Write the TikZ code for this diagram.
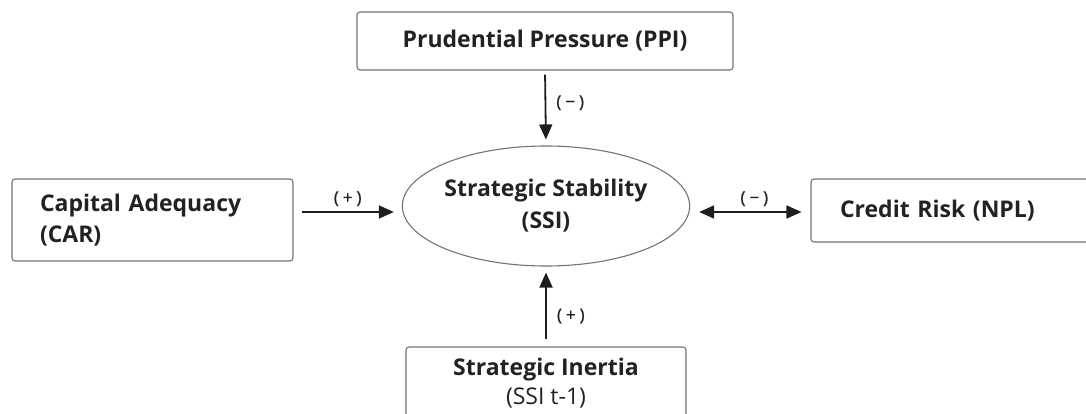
\documentclass[tikz,border=0pt]{standalone}
\usepackage{fontspec}
\setmainfont{Open Sans}
\newfontfamily\labfont[FakeBold=0.7]{Open Sans}
\usetikzlibrary{arrows.meta,shapes.geometric,calc}
\definecolor{boxline}{HTML}{747474}
\definecolor{txt}{HTML}{222222}
\definecolor{arrowc}{HTML}{1E1E1E}
\newcommand{\lbsp}[1]{(\hspace{4pt}#1\hspace{4pt})}
\tikzset{
  box/.style={draw=boxline, line width=1.1pt, rounded corners=3pt, fill=white, text=txt, inner sep=0pt},
  oval/.style={ellipse, draw=boxline, line width=1.1pt, fill=white, text=txt,
    font=\fontsize{23}{32}\selectfont\bfseries, align=center, inner sep=0pt},
  arr/.style={draw=arrowc, line width=1.8pt, -{Triangle[length=15pt,width=13pt]}},
  darr/.style={draw=arrowc, line width=1.8pt, {Triangle[length=15pt,width=13pt]}-{Triangle[length=15pt,width=13pt]}},
  lab/.style={text=txt, font=\labfont\fontsize{17}{19}\selectfont, inner sep=0pt}
}
\begin{document}
\begin{tikzpicture}[x=1pt,y=-1pt]
\useasboundingbox (0,0) rectangle (1086,414);
\clip (0,0) rectangle (1086,414);
\fill[white] (0,0) rectangle (1086,414);
% nodes
\node[box, minimum width=376pt, minimum height=58pt, font=\fontsize{23}{30}\selectfont\bfseries] (ppi) at (545,41) {Prudential Pressure (PPI)};
\node[oval, minimum width=283pt, minimum height=120pt] (ssi) at (546,206) {Strategic Stability\\(SSI)};
\node[box, minimum width=281pt, minimum height=82pt, text width=225pt, align=left, inner xsep=28pt, font=\fontsize{23}{31}\selectfont\bfseries] (car) at (152.5,220) {Capital Adequacy\\(CAR)};
\node[box, minimum width=289pt, minimum height=63pt, text width=231pt, align=left, inner xsep=29pt, font=\fontsize{23}{30}\selectfont\bfseries] (npl) at (955.5,210.5) {Credit Risk (NPL)};
\node[box, minimum width=280pt, minimum height=72pt, align=center, font=\fontsize{23}{29}\selectfont] (inertia) at (546,383) {\textbf{Strategic Inertia}\\(SSI t-1)};
% connectors
\draw[arr, shorten <=4pt, shorten >=6pt] (ppi.south) -- node[lab, right=10pt, pos=0.43] (lppi) {\lbsp{−}} (ssi.north);
\draw[arr, shorten <=8pt, shorten >=8pt] (car.east |- 0,212) -- node[lab, above=5pt] (lcar) {\lbsp{+}} (ssi.west |- 0,212);
\draw[darr, shorten <=9pt, shorten >=9pt] (ssi.east |- 0,212) -- node[lab, above=5pt, xshift=4pt] (lnpl) {\lbsp{−}} (npl.west |- 0,212);
\draw[arr, shorten <=7pt, shorten >=6pt] (inertia.north) -- node[lab, right=10pt, pos=0.38] (lin) {\lbsp{+}} (ssi.south);
\end{tikzpicture}
\end{document}
